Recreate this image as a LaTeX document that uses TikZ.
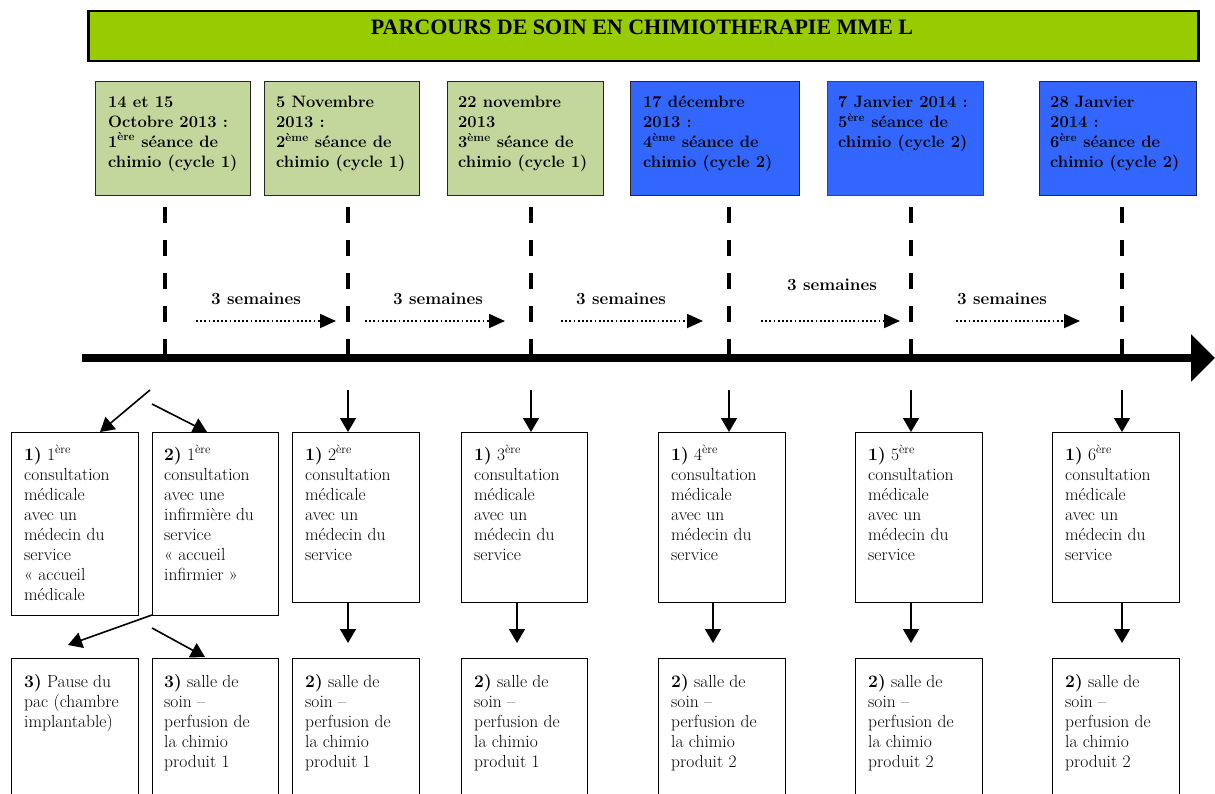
\documentclass[tikz,border=0pt]{standalone}
\usepackage{fontspec}
\newfontfamily\titlefont{Liberation Serif}
\usetikzlibrary{arrows.meta,calc}
\definecolor{titlegreen}{HTML}{99CC00}
\definecolor{boxgreen}{HTML}{C3D69B}
\definecolor{boxblue}{HTML}{3366FF}
\definecolor{edgeblue}{HTML}{2233FF}
\begin{document}
\begin{tikzpicture}[x=1pt,y=-1pt,
  titlebox/.style={draw=black, line width=2.5pt, fill=titlegreen, anchor=north west, inner sep=0, minimum width=1110pt, minimum height=50pt},
  topbox/.style={draw=black!85, line width=1.2pt, anchor=north west, inner sep=0, minimum height=114pt},
  greenbox/.style={topbox, fill=boxgreen},
  bluebox/.style={topbox, fill=boxblue},
  toptext/.style={anchor=north west, inner sep=0, align=left, font=\fontsize{16.5}{20}\selectfont\bfseries},
  botbox/.style={draw=black, line width=1.2pt, fill=white, anchor=north west, inner sep=0},
  bottext/.style={anchor=north west, inner sep=0, align=left, font=\fontsize{17.5}{20}\selectfont},
  vdash/.style={line width=4pt, dash pattern=on 16pt off 17pt},
  timeline/.style={line width=8pt, -{Triangle[length=24pt,width=46pt]}},
  darr/.style={line width=1.6pt, -{Triangle[length=14pt,width=16pt]}},
  dotarr/.style={line width=1.8pt, dash pattern=on 1.8pt off 2.4pt, -{Triangle[length=16pt,width=14pt]}},
  weeks/.style={font=\fontsize{17}{18}\selectfont\bfseries, inner sep=0}
]
\useasboundingbox (0,0) rectangle (1215,794);
\clip (0,0) rectangle (1215,794);

% title
\node[titlebox] (title) at (87,10) {};
\node[font=\titlefont\fontsize{22}{24}\selectfont\bfseries, inner sep=0] (titletext) at (642,27) {PARCOURS DE SOIN EN CHIMIOTHERAPIE MME L};

% top boxes
\node[greenbox, minimum width=155pt] (t1) at (95,81) {};
\node[greenbox, minimum width=155pt] (t2) at (264,81) {};
\node[greenbox, minimum width=156pt] (t3) at (447,81) {};
\node[bluebox, minimum width=169pt] (t4) at (630,81) {};
\node[bluebox, draw=edgeblue, minimum width=156pt] (t5) at (827,81) {};
\node[bluebox, minimum width=157pt] (t6) at (1039,81) {};

\node[toptext] (tt1) at (108,96) {14 et 15\\Octobre 2013 :\\1\textsuperscript{ère} séance de\\chimio (cycle 1)};
\node[toptext] (tt2) at (276,96) {5 Novembre\\2013 :\\2\textsuperscript{ème} séance de\\chimio (cycle 1)};
\node[toptext] (tt3) at (458,96) {22 novembre\\2013\\3\textsuperscript{ème} séance de\\chimio (cycle 1)};
\node[toptext] (tt4) at (643,96) {17 décembre\\2013 :\\4\textsuperscript{ème} séance de\\chimio (cycle 2)};
\node[toptext] (tt5) at (838,96) {7 Janvier 2014 :\\5\textsuperscript{ère} séance de\\chimio (cycle 2)};
\node[toptext] (tt6) at (1050,96) {28 Janvier\\2014 :\\6\textsuperscript{ère} séance de\\chimio (cycle 2)};

% timeline
\coordinate (ts) at (82,358);
\coordinate (te) at (1215,358);
\draw[timeline] (ts) -- (te);

% vertical dashed lines
\foreach \x [count=\i] in {165,348,531,729,911,1122} {
  \coordinate (v\i) at (\x,207);
  \draw[vdash] (v\i) -- (v\i |- ts);
}

% 3 semaines
\node[weeks] (w1) at (256,299) {3 semaines};
\node[weeks] (w2) at (438,299) {3 semaines};
\node[weeks] (w3) at (621,299) {3 semaines};
\node[weeks] (w4) at (832,285) {3 semaines};
\node[weeks] (w5) at (1002,299) {3 semaines};
\coordinate (a1s) at (196,321); \coordinate (a1e) at (336,321);
\coordinate (a2s) at (365,321); \coordinate (a2e) at (505,321);
\coordinate (a3s) at (561,321); \coordinate (a3e) at (703,321);
\coordinate (a4s) at (761,321); \coordinate (a4e) at (900,321);
\coordinate (a5s) at (956,321); \coordinate (a5e) at (1080,321);
\foreach \i in {1,...,5} { \draw[dotarr] (a\i s) -- (a\i e); }

% row 1 boxes
\node[botbox, minimum width=127pt, minimum height=183pt] (b1a) at (11,432) {};
\node[botbox, minimum width=126pt, minimum height=183pt] (b1b) at (152,432) {};
\node[botbox, minimum width=127pt, minimum height=170pt] (b2) at (292,432) {};
\node[botbox, minimum width=126pt, minimum height=170pt] (b3) at (461,432) {};
\node[botbox, minimum width=127pt, minimum height=170pt] (b4) at (658,432) {};
\node[botbox, minimum width=127pt, minimum height=170pt] (b5) at (855,432) {};
\node[botbox, minimum width=127pt, minimum height=170pt] (b6) at (1052,432) {};

\node[bottext] (bt1a) at (24,445) {\textbf{1)} 1\textsuperscript{ère}\\consultation\\médicale\\avec un\\médecin du\\service\\« accueil\\médicale};
\node[bottext] (bt1b) at (164,445) {\textbf{2)} 1\textsuperscript{ère}\\consultation\\avec une\\infirmière du\\service\\« accueil\\infirmier »};
\node[bottext] (bt2) at (305,445) {\textbf{1)} 2\textsuperscript{ère}\\consultation\\médicale\\avec un\\médecin du\\service};
\node[bottext] (bt3) at (474,445) {\textbf{1)} 3\textsuperscript{ère}\\consultation\\médicale\\avec un\\médecin du\\service};
\node[bottext] (bt4) at (671,445) {\textbf{1)} 4\textsuperscript{ère}\\consultation\\médicale\\avec un\\médecin du\\service};
\node[bottext] (bt5) at (868,445) {\textbf{1)} 5\textsuperscript{ère}\\consultation\\médicale\\avec un\\médecin du\\service};
\node[bottext] (bt6) at (1065,445) {\textbf{1)} 6\textsuperscript{ère}\\consultation\\médicale\\avec un\\médecin du\\service};

% row 2 boxes
\foreach \n/\x/\w in {c1a/11/127, c1b/152/126, c2/292/127, c3/461/126, c4/658/127, c5/855/127, c6/1052/127} {
  \node[botbox, minimum width=\w pt, minimum height=160pt] (\n) at (\x,658) {};
}
\node[bottext] (ct1a) at (24,674) {\textbf{3)} Pause du\\pac (chambre\\implantable)};
\node[bottext] (ct1b) at (164,674) {\textbf{3)} salle de\\soin –\\perfusion de\\la chimio\\produit 1};
\node[bottext] (ct2) at (305,674) {\textbf{2)} salle de\\soin –\\perfusion de\\la chimio\\produit 1};
\node[bottext] (ct3) at (474,674) {\textbf{2)} salle de\\soin –\\perfusion de\\la chimio\\produit 1};
\node[bottext] (ct4) at (671,674) {\textbf{2)} salle de\\soin –\\perfusion de\\la chimio\\produit 2};
\node[bottext] (ct5) at (868,674) {\textbf{2)} salle de\\soin –\\perfusion de\\la chimio\\produit 2};
\node[bottext] (ct6) at (1065,674) {\textbf{2)} salle de\\soin –\\perfusion de\\la chimio\\produit 2};

% arrows timeline -> row 1
\coordinate (s1l) at (150,390);
\coordinate (s1r) at (152,404);
\coordinate (p1a) at (100,432);
\coordinate (p1b) at (207,432);
\draw[darr] (s1l) -- (p1a);
\draw[darr] (s1r) -- (p1b);
\foreach \n/\x in {b2/348, b3/531, b4/729, b5/911, b6/1122} {
  \coordinate (d\n) at (\x,390);
  \draw[darr] (d\n) -- (d\n |- \n.north);
}

% arrows row 1 -> row 2
\foreach \n/\x in {2/348, 3/517, 4/713, 5/911, 6/1122} {
  \coordinate (e\n) at (\x,643);
  \draw[darr] (b\n.south -| e\n) -- (e\n);
}
\coordinate (q1l) at (152,615);
\coordinate (q1r) at (152,628);
\coordinate (r1a) at (68,645);
\coordinate (r1b) at (205,657);
\draw[darr] (q1l) -- (r1a);
\draw[darr] (q1r) -- (r1b);
\end{tikzpicture}
\end{document}
